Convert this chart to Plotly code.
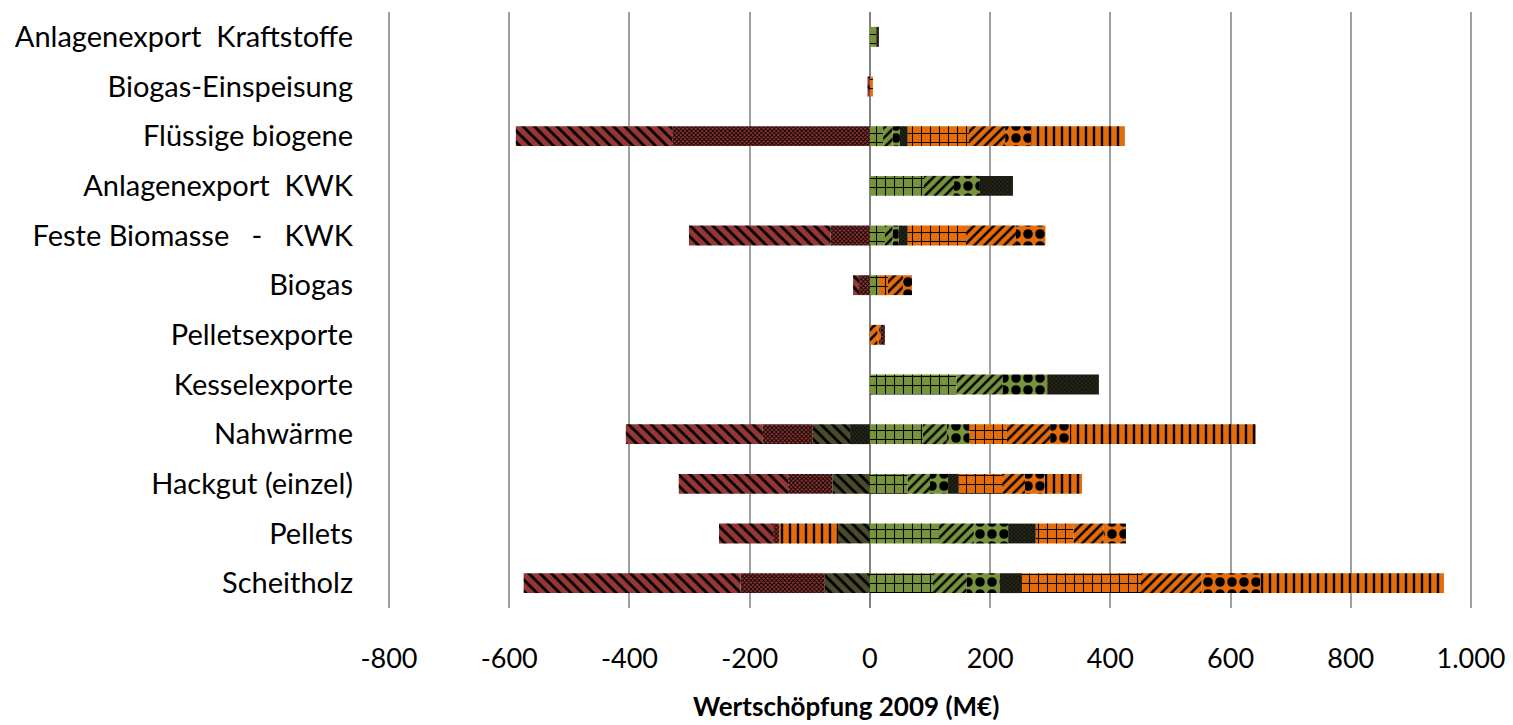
import plotly.graph_objects as go

# Kategorien (von oben nach unten)
kategorien = [
    "Anlagenexport  Kraftstoffe",
    "Biogas-Einspeisung",
    "Flüssige biogene",
    "Anlagenexport  KWK",
    "Feste Biomasse   -   KWK",
    "Biogas",
    "Pelletsexporte",
    "Kesselexporte",
    "Nahwärme",
    "Hackgut (einzel)",
    "Pellets",
    "Scheitholz",
]

# Wertschöpfungsbeiträge je Komponente (M€), gleiche Reihenfolge wie kategorien
gruen_ziegel = [11, 0, 22, 90, 25, 15, 0, 144, 88, 63, 115, 105]
gruen_schraeg = [0, 0, 16, 50, 13, 0, 0, 77, 40, 37, 58, 56]
gruen_karo = [0, 0, 12, 43, 10, 0, 0, 74, 38, 30, 57, 55]
dunkel_punkt = [4, 0, 13, 55, 15, 0, 0, 86, -33, 18, 46, 37]
dunkel_schraeg = [0, 0, 0, 0, 0, 0, 0, 0, -62, -62, -53, -75]
orange_ziegel = [0, 5, 102, 0, 97, 15, 0, 0, 62, 72, 63, 198]
orange_schraeg = [0, 0, 60, 0, 83, 25, 13, 0, 72, 38, 50, 101]
orange_karo = [0, 0, 43, 0, 49, 15, 5, 0, 33, 33, 37, 97]
orange_senkrecht = [0, 0, 156, 0, 0, 0, 0, 0, 309, 62, -98, 306]
rot_punkt = [0, 0, -329, 0, -65, -18, 7, 0, -83, -74, -10, -140]
rot_schraeg = [0, -4, -260, 0, -236, -10, 0, 0, -228, -182, -90, -361]

tick_werte = [-800, -600, -400, -200, 0, 200, 400, 600, 800, 1000]
tick_texte = ["-800", "-600", "-400", "-200", "0", "200", "400", "600", "800", "1.000"]

GRUEN = "#77933C"
DUNKEL_A = "#25251A"
DUNKEL_B = "#4A4A2C"
ORANGE = "#E46C0A"
ROT = "#953735"

reihen = [
    (gruen_ziegel, GRUEN, "+", 9, 0.22),
    (gruen_schraeg, GRUEN, "/", 7, 0.35),
    (gruen_karo, GRUEN, ".", 12, 0.5),
    (dunkel_punkt, DUNKEL_A, "x", 3, 0.3),
    (dunkel_schraeg, DUNKEL_B, "\\", 8, 0.35),
    (orange_ziegel, ORANGE, "+", 9, 0.22),
    (orange_schraeg, ORANGE, "/", 7, 0.35),
    (orange_karo, ORANGE, ".", 12, 0.5),
    (orange_senkrecht, ORANGE, "|", 8, 0.3),
    (rot_punkt, ROT, "x", 3, 0.5),
    (rot_schraeg, ROT, "\\", 8, 0.35),
]

fig = go.Figure()
for werte, farbe, form, groesse, dichte in reihen:
    fig.add_trace(go.Bar(
        y=kategorien,
        x=werte,
        orientation="h",
        marker=dict(
            color=farbe,
            line=dict(width=0),
            pattern=dict(shape=form, size=groesse, solidity=dichte,
                         fgcolor="#000000", bgcolor=farbe, fillmode="replace"),
        ),
        showlegend=False,
        hoverinfo="x+y",
    ))

fig.update_layout(
    barmode="relative",
    bargap=0.6,
    width=1513,
    height=725,
    margin=dict(l=386, r=39, t=12, b=117, autoexpand=False),
    paper_bgcolor="white",
    plot_bgcolor="white",
    font=dict(family="Lato, Carlito, sans-serif", size=27, color="#000000"),
    xaxis=dict(
        range=[-805, 1005],
        tickvals=tick_werte,
        ticktext=tick_texte,
        showgrid=True,
        gridcolor="#A0A0A0",
        gridwidth=1.5,
        zeroline=True,
        zerolinecolor="#808080",
        zerolinewidth=2,
        showline=False,
        ticks="",
        automargin=False,
        ticklabeloverflow="allow",
        ticklabelstandoff=32,
        tickfont=dict(size=27),
    ),
    yaxis=dict(
        autorange="reversed",
        showgrid=False,
        showline=False,
        ticks="",
        automargin=False,
        ticklabelstandoff=32,
        tickfont=dict(size=29),
    ),
    annotations=[dict(
        text="<b>Wertschöpfung 2009 (M€)</b>",
        xref="paper", yref="paper",
        x=0.4224, y=-0.165,
        xanchor="center", yanchor="middle",
        showarrow=False,
        font=dict(size=26),
    )],
)

fig.write_html("out.html")
